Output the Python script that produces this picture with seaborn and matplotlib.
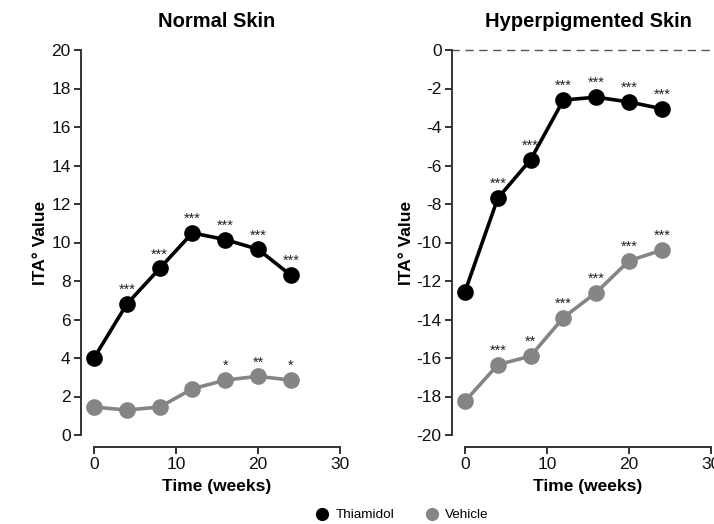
import matplotlib
matplotlib.use("Agg")
import matplotlib.pyplot as plt
import seaborn as sns
import pandas as pd
from matplotlib.lines import Line2D

weeks = [0, 4, 8, 12, 16, 20, 24]
normal_thiamidol = [4.0, 6.8, 8.65, 10.5, 10.15, 9.65, 8.3]
normal_vehicle = [1.45, 1.3, 1.45, 2.4, 2.85, 3.05, 2.85]
hyper_thiamidol = [-12.55, -7.7, -5.7, -2.6, -2.45, -2.7, -3.05]
hyper_vehicle = [-18.25, -16.35, -15.9, -13.9, -12.6, -10.95, -10.4]

normal_thiamidol_sig = ["", "***", "***", "***", "***", "***", "***"]
normal_vehicle_sig = ["", "", "", "", "*", "**", "*"]
hyper_thiamidol_sig = ["", "***", "***", "***", "***", "***", "***"]
hyper_vehicle_sig = ["", "***", "**", "***", "***", "***", "***"]

treatments = ["Thiamidol", "Vehicle"]
colors = {"Thiamidol": "#000000", "Vehicle": "#858585"}

sns.set_style("ticks")
plt.rcParams["font.family"] = ["Liberation Sans", "DejaVu Sans"]
plt.rcParams["axes.unicode_minus"] = False
plt.rcParams["text.color"] = "black"
plt.rcParams["axes.labelcolor"] = "black"

fig = plt.figure(figsize=(7.14, 5.24), dpi=100)
W, H = 714, 524
ax1 = fig.add_axes([94 / W, (H - 435) / H, 246 / W, 385 / H])
ax2 = fig.add_axes([465 / W, (H - 435) / H, 246 / W, 385 / H])

panels = [
    (ax1, "Normal Skin", normal_thiamidol, normal_vehicle, normal_thiamidol_sig, normal_vehicle_sig, (0, 20)),
    (ax2, "Hyperpigmented Skin", hyper_thiamidol, hyper_vehicle, hyper_thiamidol_sig, hyper_vehicle_sig, (-20, 0)),
]

for ax, title, thi, veh, thi_sig, veh_sig, ylim in panels:
    df = pd.DataFrame({
        "Time": weeks * 2,
        "ITA": thi + veh,
        "Treatment": ["Thiamidol"] * len(weeks) + ["Vehicle"] * len(weeks),
    })
    if ylim[1] == 0:
        ax.axhline(0, xmin=-0.055, xmax=1.02, color="#555555", lw=1.0,
                   ls=(0, (6, 4)), clip_on=False, zorder=1)
    sns.lineplot(data=df, x="Time", y="ITA", hue="Treatment", palette=colors,
                 hue_order=treatments, marker="o", markersize=12,
                 markeredgewidth=0, linewidth=2.6, ax=ax, legend=False,
                 clip_on=False, zorder=3)
    for vals, sig in ((thi, thi_sig), (veh, veh_sig)):
        for x, y, s in zip(weeks, vals, sig):
            if s:
                ax.annotate(s, (x, y), xytext=(0, 5), textcoords="offset points",
                            ha="center", va="bottom", fontsize=10.5, color="#222222")
    ax.set_xlim(0, 30)
    ax.set_ylim(*ylim)
    ax.set_xticks([0, 10, 20, 30])
    ax.set_yticks(range(ylim[0], ylim[1] + 1, 2))
    ax.set_title(title, fontsize=14.5, fontweight="bold", pad=16.5, color="black")
    ax.set_xlabel("Time (weeks)", fontsize=12.5, fontweight="bold", labelpad=5)
    ax.set_ylabel("ITA° Value", fontsize=12.5, fontweight="bold", labelpad=2)
    sns.despine(ax=ax, offset={"left": 9.4, "bottom": 8.6})
    for sp in ("left", "bottom"):
        ax.spines[sp].set_linewidth(1.4)
        ax.spines[sp].set_color("#333333")
    ax.tick_params(axis="both", labelsize=12.5, width=1.4, length=5,
                   color="#333333", labelcolor="#111111", pad=2.5)

handles = [Line2D([], [], ls="none", marker="o", markersize=9.5, markeredgewidth=0,
                  color=colors[t], label=t) for t in treatments]
fig.legend(handles=handles, loc="center", bbox_to_anchor=(402 / W, 9 / H),
           ncol=2, frameon=False, fontsize=9.7, handletextpad=0.5,
           columnspacing=2.3, handlelength=1.0)

fig.savefig("out.png", dpi=100)
